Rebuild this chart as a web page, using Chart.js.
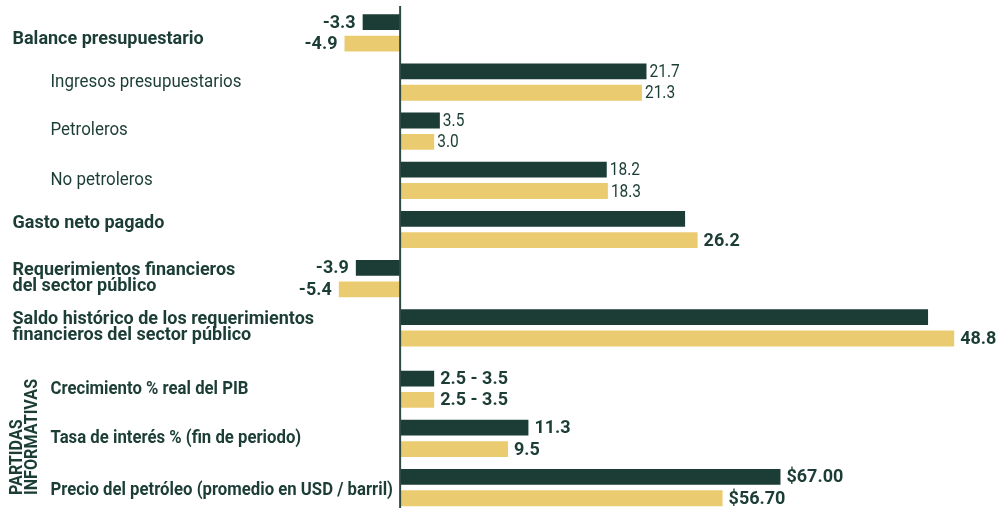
<!DOCTYPE html>
<html><head><meta charset="utf-8">
<script src="https://cdn.jsdelivr.net/npm/chart.js@4"></script>
<style>html,body{margin:0;padding:0;background:#fff;overflow:hidden}#wrap{width:1000px;height:508px;position:relative}</style>
</head><body><div id="wrap"><canvas id="c" width="1000" height="508"></canvas></div>
<script>
// ---- data ----
const categories = [
  ['Balance presupuestario'],
  ['Ingresos presupuestarios'],
  ['Petroleros'],
  ['No petroleros'],
  ['Gasto neto pagado'],
  ['Requerimientos financieros', 'del sector público'],
  ['Saldo histórico de los requerimientos', 'financieros del sector público'],
  ['Crecimiento % real del PIB'],
  ['Tasa de interés % (fin de periodo)'],
  ['Precio del petróleo (promedio en USD / barril)']
];
const categoryKind = ['main', 'sub', 'sub', 'sub', 'main', 'main', 'main', 'info', 'info', 'info'];
const seriesDark = [-3.3, 21.7, 3.5, 18.2, 25.1, -3.9, 46.5, 3.0, 11.3, 33.5];
const seriesGold = [-4.9, 21.3, 3.0, 18.3, 26.2, -5.4, 48.8, 3.0, 9.5, 28.4];
const labelsDark = ['-3.3', '21.7', '3.5', '18.2', '', '-3.9', '', '2.5 - 3.5', '11.3', '$67.00'];
const labelsGold = ['-4.9', '21.3', '3.0', '18.3', '26.2', '-5.4', '48.8', '2.5 - 3.5', '9.5', '$56.70'];
const labelBold = [true, false, false, false, true, true, true, true, true, true];
const sectionTitle = ['PARTIDAS', 'INFORMATIVAS'];

// ---- layout / style ----
const DARK = '#1b3d35';
const GOLD = '#ebcb70';
const TEXT = '#1b3d35';
const FONT = 'Roboto';
const INFO_GAP = 0.25;               // extra space before the informative rows
const rowPos = i => i + (i >= 7 ? INFO_GAP : 0);
const labelNudge = [6.5, 0, -1, 0, -6, 0, 0, 0, 0.5, 3];

function drawText(ctx, text, x, y, font, align, sx, baseline) {
  ctx.save();
  ctx.translate(x, y);
  ctx.scale(sx, 1);
  ctx.font = font;
  ctx.fillStyle = TEXT;
  ctx.textAlign = align;
  ctx.textBaseline = baseline || 'alphabetic';
  ctx.fillText(text, 0, 0);
  ctx.restore();
}

const decor = {
  id: 'decor',
  afterDatasetsDraw(chart) {
    const ctx = chart.ctx;
    const xs = chart.scales.x, ys = chart.scales.y;
    const x0 = xs.getPixelForValue(0);
    // zero line
    ctx.save();
    ctx.strokeStyle = '#2e4a43';
    ctx.lineWidth = 2;
    ctx.beginPath();
    ctx.moveTo(x0, 6);
    ctx.lineTo(x0, chart.height);
    ctx.stroke();
    ctx.restore();

    // value labels
    [labelsDark, labelsGold].forEach((labs, d) => {
      const meta = chart.getDatasetMeta(d);
      const vals = d === 0 ? seriesDark : seriesGold;
      meta.data.forEach((el, i) => {
        const t = labs[i];
        if (!t) return;
        const bold = labelBold[i];
        const neg = vals[i] < 0;
        const font = bold ? `bold 18px ${FONT}` : `18px ${FONT}`;
        const sx = bold ? 1.0 : 0.86;
        const gap = neg ? -7 : (bold ? 6 : 3);
        drawText(ctx, t, el.x + gap, el.y + 1, font, neg ? 'right' : 'left', sx, 'middle');
      });
    });

    // category labels
    categories.forEach((lines, i) => {
      const kind = categoryKind[i];
      const cy = ys.getPixelForValue(rowPos(i));
      const x = kind === 'main' ? 12.5 : 50.5;
      const font = kind === 'sub' ? `18px ${FONT}` : `bold 18px ${FONT}`;
      const sx = kind === 'sub' ? 0.94 : (kind === 'main' ? 1.0 : 0.93);
      const n = lines.length;
      lines.forEach((ln, k) => {
        const y = cy + 4.5 + (k - (n - 1) / 2) * 16 + labelNudge[i];
        drawText(ctx, ln, x, y, font, 'left', sx);
      });
    });

    // rotated section title
    ctx.save();
    ctx.translate(0, 495);
    ctx.rotate(-Math.PI / 2);
    ctx.scale(0.85, 1);
    ctx.font = `bold 19px ${FONT}`;
    ctx.fillStyle = TEXT;
    ctx.textAlign = 'left';
    ctx.textBaseline = 'alphabetic';
    ctx.fillText(sectionTitle[0], 0, 21.7);
    ctx.fillText(sectionTitle[1], 0, 36.7);
    ctx.restore();
  }
};

const positions = categories.map((_, i) => rowPos(i));

new Chart(document.getElementById('c'), {
  type: 'bar',
  data: {
    datasets: [
      { data: seriesDark.map((v, i) => ({ x: v, y: rowPos(i) })), backgroundColor: DARK },
      { data: seriesGold.map((v, i) => ({ x: v, y: rowPos(i) })), backgroundColor: GOLD }
    ]
  },
  options: {
    indexAxis: 'y',
    responsive: false,
    animation: false,
    devicePixelRatio: 1,
    categoryPercentage: 0.87,
    barPercentage: 0.74,
    layout: { padding: { left: 332, right: 9.5, top: 0, bottom: 0 } },
    plugins: { legend: { display: false }, tooltip: { enabled: false } },
    scales: {
      x: { type: 'linear', min: -6, max: 52, display: false, offset: false },
      y: {
        type: 'linear', reverse: true, min: -0.669, max: 9.666, display: false,
        offset: false, grid: { offset: false },
        afterBuildTicks: s => { s.ticks = positions.map(v => ({ value: v })); }
      }
    }
  },
  plugins: [decor]
});
</script></body></html>
